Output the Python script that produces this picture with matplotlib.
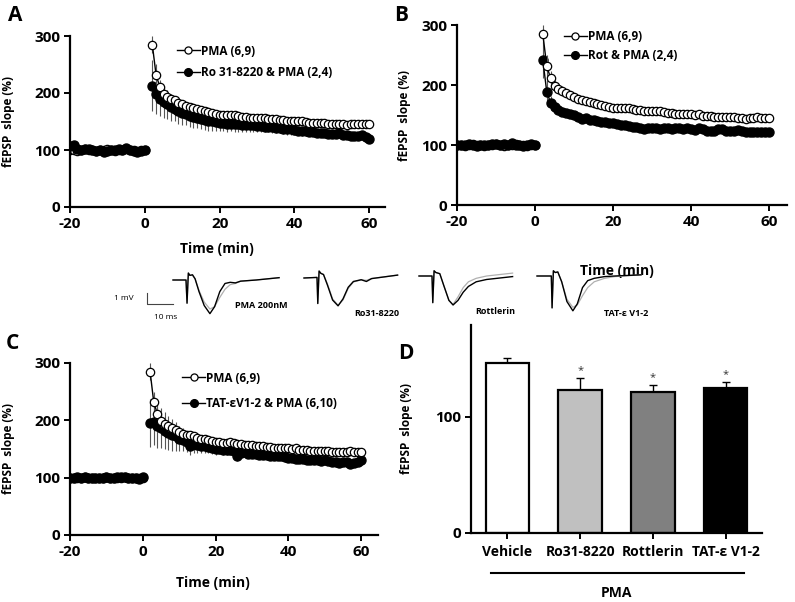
import matplotlib
matplotlib.use('Agg')
import matplotlib.pyplot as plt
import matplotlib.transforms as mtransforms
import numpy as np

plt.rcParams['font.family'] = ['Open Sans', 'DejaVu Sans']
plt.rcParams['font.weight'] = 'bold'
plt.rcParams['axes.unicode_minus'] = False

W, H = 795, 602

# ---- time course data (fEPSP slope %, one point per minute) ----
t_base = np.arange(-20, 1)
t_post = np.arange(2, 61)

pma_base = [100, 100, 99, 100, 101, 100, 100, 99, 100, 100, 101, 100, 99, 100, 100, 101, 100, 100, 99, 100, 100]
pma_post = [285, 232, 211, 198, 193, 190, 187, 183, 180, 177, 175, 174, 172, 170, 168, 167, 165, 164, 162, 162,
            161, 161, 162, 160, 158, 158, 157, 157, 157, 156, 156, 155, 154, 154, 152, 152, 151, 151, 151, 150,
            151, 149, 148, 148, 147, 147, 147, 146, 146, 146, 145, 145, 144, 145, 145, 146, 145, 145, 145]
pma_err = [15, 18, 12, 10, 8, 8, 7, 7, 7, 6, 6, 6, 6, 6, 6, 5, 5, 5, 5, 5,
           5, 5, 5, 5, 5, 5, 5, 5, 5, 5, 5, 5, 5, 5, 5, 5, 5, 5, 5, 5,
           5, 5, 5, 5, 5, 5, 5, 5, 5, 5, 5, 5, 5, 5, 5, 5, 5, 5, 5]

ro_base = [107, 108, 101, 100, 101, 101, 100, 99, 100, 97, 99, 100, 100, 101, 100, 103, 100, 99, 96, 98, 100]
ro_post = [213, 198, 190, 185, 180, 175, 172, 168, 165, 163, 160, 158, 157, 155, 153, 150, 150, 149, 148, 147,
           146, 146, 145, 145, 144, 144, 143, 143, 142, 142, 141, 141, 140, 139, 138, 137, 136, 136, 135, 134,
           133, 133, 132, 131, 130, 129, 129, 128, 128, 128, 129, 127, 126, 125, 124, 125, 127, 122, 120]
ro_err = [45, 35, 30, 28, 26, 24, 22, 22, 21, 20, 20, 19, 19, 18, 18, 17, 16, 16, 15, 14,
          14, 13, 13, 13, 12, 12, 12, 11, 11, 11, 10, 10, 10, 10, 9, 9, 9, 9, 8, 8,
          8, 8, 8, 7, 7, 7, 7, 7, 7, 6, 6, 6, 6, 6, 6, 6, 6, 5, 5]

rot_base = [100, 100, 100, 101, 100, 99, 100, 100, 100, 101, 102, 100, 101, 100, 103, 100, 100, 99, 100, 101, 100]
rot_post = [242, 189, 170, 163, 158, 155, 153, 152, 150, 146, 144, 145, 142, 141, 140, 139, 138, 137, 136, 135,
            134, 133, 131, 130, 130, 129, 127, 128, 128, 128, 127, 128, 129, 127, 128, 129, 127, 128, 127, 125,
            128, 127, 124, 124, 124, 127, 126, 124, 123, 124, 125, 123, 122, 122, 121, 122, 121, 121, 121]
rot_err = [30, 20, 12, 8, 7, 6, 6, 6, 6, 5, 5, 5, 5, 5, 5, 5, 5, 5, 5, 5,
           5, 5, 5, 5, 5, 5, 5, 5, 5, 5, 5, 5, 5, 5, 5, 5, 5, 5, 5, 5,
           5, 5, 5, 5, 5, 5, 5, 5, 5, 5, 5, 5, 5, 5, 5, 5, 5, 5, 5]

tat_base = [100, 100, 101, 100, 101, 100, 99, 100, 100, 100, 101, 100, 100, 101, 102, 101, 100, 100, 99, 98, 101]
tat_post = [195, 197, 190, 186, 182, 178, 175, 172, 168, 166, 163, 155, 158, 157, 156, 155, 154, 152, 150, 150,
            149, 148, 148, 146, 137, 143, 144, 142, 142, 141, 140, 139, 139, 138, 138, 137, 137, 136, 135, 134,
            133, 132, 133, 131, 130, 131, 130, 129, 130, 129, 128, 128, 126, 127, 128, 124, 126, 128, 130]
tat_err = [42, 40, 38, 35, 32, 30, 28, 25, 22, 20, 18, 16, 15, 14, 13, 12, 11, 10, 10, 9,
           9, 9, 8, 8, 8, 8, 8, 7, 7, 7, 7, 7, 7, 6, 6, 6, 6, 6, 6, 6,
           6, 6, 6, 5, 5, 5, 5, 5, 5, 5, 5, 5, 5, 5, 5, 5, 5, 5, 5]

# ---- bar data (panel D) ----
bar_names = ['Vehicle', 'Ro31-8220', 'Rottlerin', 'TAT-\u03b5 V1-2']
bar_vals = [146, 123, 121, 125]
bar_err = [5, 10, 6, 5]
bar_colors = ['white', '#c0c0c0', '#808080', 'black']
bar_stars = ['', '*', '*', '*']

# ---- example traces (ms, mV) ----
tr_pma_t = [0, 5.0, 5.4, 5.9, 6.5, 7.5, 8.5, 10, 12, 14.2, 16, 18, 20, 22, 24, 26, 32, 40.8]
tr_pma_k = [0, 0, -2.0, 0.6, 0.4, 0.45, 0.1, -1.0, -2.2, -2.9, -2.3, -1.0, -0.3, -0.2, -0.25, -0.1, 0.0, 0.2]
tr_pma_g = [0, 0, -2.0, 0.6, 0.4, 0.4, 0.1, -0.9, -1.9, -2.5, -2.3, -1.5, -0.8, -0.4, -0.3, -0.1, 0.0, 0.2]

tr_ro_t = [0, 5.0, 5.3, 5.8, 6.5, 7.5, 9, 11, 13.1, 15, 17, 19, 22, 24, 26, 36]
tr_ro_k = [0, 0.05, -2.2, 0.6, 0.4, 0.3, -0.6, -1.9, -2.4, -1.8, -0.8, -0.3, -0.15, -0.3, -0.05, 0.25]
tr_ro_g = [0, 0.05, -2.2, 0.6, 0.4, 0.3, -0.5, -1.8, -2.35, -1.9, -0.9, -0.35, -0.15, -0.2, -0.05, 0.25]

tr_rot_t = [0, 5.0, 5.3, 5.8, 6.5, 8, 9.5, 11.5, 13.1, 15, 17, 19, 22, 26, 30, 36]
tr_rot_k = [0, 0, -2.3, 0.45, 0.3, 0.2, -0.8, -2.1, -2.5, -2.1, -1.4, -0.9, -0.5, -0.3, -0.2, -0.05]
tr_rot_g = [0, 0, -2.3, 0.45, 0.3, 0.2, -0.8, -2.1, -2.45, -1.8, -1.0, -0.5, -0.2, 0.0, 0.1, 0.25]

tr_tat_t = [0, 5.5, 5.8, 6.3, 7, 8, 9.5, 11.5, 13.8, 15.5, 17.5, 19.5, 22, 26, 30, 40]
tr_tat_k = [0, 0, -2.75, 0.45, 0.3, 0.35, -0.5, -2.2, -3.0, -2.4, -1.0, -0.4, -0.2, -0.05, 0.0, 0.1]
tr_tat_g = [0, 0, -2.75, 0.45, 0.3, 0.35, -0.5, -2.0, -2.7, -2.5, -1.7, -1.0, -0.5, -0.2, -0.05, 0.1]


def box(l, t, r, b):
    return [l / W, 1 - b / H, (r - l) / W, (b - t) / H]


fig = plt.figure(figsize=(W / 100, H / 100), dpi=100)


def style_axes(ax, size=11):
    for s in ['top', 'right']:
        ax.spines[s].set_visible(False)
    for s in ['left', 'bottom']:
        ax.spines[s].set_linewidth(1.6)
    ax.tick_params(direction='out', length=4, width=1.4, labelsize=size, pad=3)


def time_panel(rect, base, post, err, label, leg_xy, leg_space, xlab_xy, ylab_x):
    ax = fig.add_axes(rect)
    style_axes(ax)
    # treatment group (filled)
    ax.errorbar(t_post, post, yerr=err, fmt='none', ecolor='#555555', elinewidth=0.8, capsize=0, zorder=2)
    ax.plot(t_base, base, '-o', color='black', ms=6.5, lw=1, zorder=3)
    ax.plot(t_post, post, '-o', color='black', ms=6.5, lw=1, zorder=3, label=label)
    # PMA alone (open)
    ax.errorbar(t_post, pma_post, yerr=pma_err, fmt='none', ecolor='#555555', elinewidth=0.8, capsize=0, zorder=4)
    ax.plot(t_base, pma_base, '-o', color='black', mfc='white', mec='black', mew=0.9, ms=6, lw=1, zorder=1)
    ax.plot(t_post, pma_post, '-o', color='black', mfc='white', mec='black', mew=0.9, ms=6, lw=1, zorder=5,
            label='PMA (6,9)')
    ax.set_ylim(0, 300)
    ax.set_yticks([0, 100, 200, 300])
    ax.set_xticks([-20, 0, 20, 40, 60])
    ax.set_xlabel('Time (min)', fontsize=10, fontweight='bold')
    ax.xaxis.set_label_coords(*xlab_xy)
    ax.set_ylabel('fEPSP  slope (%)', fontsize=8.5, fontweight='bold')
    ax.yaxis.set_label_coords(ylab_x, 0.5)
    h, l = ax.get_legend_handles_labels()
    ax.legend(h[::-1], l[::-1], loc='upper left', bbox_to_anchor=leg_xy, frameon=False,
              handlelength=1.9, handletextpad=0.1, borderpad=0, borderaxespad=0, labelspacing=leg_space,
              markerscale=0.85, prop={'weight': 'bold', 'size': 8.5})
    return ax


axA = time_panel(box(70, 36, 385, 207), ro_base, ro_post, ro_err, 'Ro 31-8220 & PMA (2,4)',
                 (0.34, 0.95), 0.7, (0.467, -0.205), -0.175)
axA.set_xlim(-20, 64.2)
axB = time_panel(box(457, 25, 787, 205), rot_base, rot_post, rot_err, 'Rot & PMA (2,4)',
                 (0.325, 0.97), 0.5, (0.485, -0.325), -0.14)
axB.set_xlim(-20, 64.6)
axC = time_panel(box(70, 363, 378, 535), tat_base, tat_post, tat_err, 'TAT-\u03b5V1-2 & PMA (6,10)',
                 (0.365, 0.95), 1.05, (0.464, -0.24), -0.179)
axC.set_xlim(-20, 64.6)

# ---- panel D ----
axD = fig.add_axes(box(471, 325, 762, 533))
style_axes(axD)
xpos = np.arange(len(bar_names))
axD.bar(xpos, bar_vals, width=0.6, color=bar_colors, edgecolor='black', linewidth=1.6, zorder=2)
axD.errorbar(xpos, bar_vals, yerr=[np.zeros(len(bar_err)), bar_err], fmt='none', ecolor='black',
             elinewidth=1, capsize=3, capthick=1, zorder=1)
for x, v, e, s in zip(xpos, bar_vals, bar_err, bar_stars):
    axD.text(x, v + e + 2, s, ha='center', va='bottom', fontsize=8, fontweight='normal', color='#333333')
axD.set_xlim(-0.5, 3.5)
axD.set_ylim(0, 179)
axD.set_yticks([0, 100])
axD.set_xticks(xpos)
axD.set_xticklabels(bar_names, fontsize=10, fontweight='bold')
axD.tick_params(axis='x', pad=5)
axD.set_ylabel('fEPSP  slope (%)', fontsize=8.5, fontweight='bold')
axD.yaxis.set_label_coords(-0.2, 0.5)
trD = mtransforms.blended_transform_factory(axD.transData, axD.transAxes)
axD.plot([-0.22, 3.25], [-0.19, -0.19], color='black', lw=1.5, transform=trD, clip_on=False)
axD.text(1.5, -0.255, 'PMA', transform=trD, ha='center', va='top', fontsize=10, fontweight='bold')

# ---- example traces ----
PX_MS, PX_MV = 2.6, 11.6


def trace_axes(x0, y0, t_min, t_max, v_min=-3.6, v_max=1.0):
    ax = fig.add_axes(box(x0 + t_min * PX_MS, y0 - v_max * PX_MV, x0 + t_max * PX_MS, y0 - v_min * PX_MV))
    ax.set_xlim(t_min, t_max)
    ax.set_ylim(v_min, v_max)
    ax.axis('off')
    return ax


traces = [
    (173, 280, tr_pma_t, tr_pma_k, tr_pma_g),
    (304, 278, tr_ro_t, tr_ro_k, tr_ro_g),
    (419, 276, tr_rot_t, tr_rot_k, tr_rot_g),
    (537, 276, tr_tat_t, tr_tat_k, tr_tat_g),
]
tr_axes = []
for x0, y0, tt, vk, vg in traces:
    tax = trace_axes(x0, y0, -11, tt[-1] + 1)
    tax.plot(tt, vg, color='#b0b0b0', lw=0.9)
    tax.plot(tt, vk, color='black', lw=1.0)
    tr_axes.append(tax)

# scale bar
sax = tr_axes[0]
sax.plot([-10, -10, 0], [-1.1, -2.1, -2.1], color='#444444', lw=0.8)
sax.text(-15.2, -1.6, '1 mV', ha='right', va='center', fontsize=6, fontweight='normal')
sax.text(-3, -3.2, '10 ms', ha='center', va='center', fontsize=6, fontweight='normal')

fig.text(235 / W, 1 - 305 / H, 'PMA 200nM', ha='left', va='center', fontsize=6.5, fontweight='bold')
fig.text(354 / W, 1 - 313 / H, 'Ro31-8220', ha='left', va='center', fontsize=6.5, fontweight='bold')
fig.text(475 / W, 1 - 311 / H, 'Rottlerin', ha='left', va='center', fontsize=6.5, fontweight='bold')
fig.text(604 / W, 1 - 313 / H, 'TAT-\u03b5 V1-2', ha='left', va='center', fontsize=6.5, fontweight='bold')

# panel letters
for letter, x, y in [('A', 8, 5), ('B', 394, 5), ('C', 6, 333), ('D', 398, 343)]:
    fig.text(x / W, 1 - y / H, letter, ha='left', va='top', fontsize=15, fontweight='bold')

fig.savefig('out.png', dpi=100)
